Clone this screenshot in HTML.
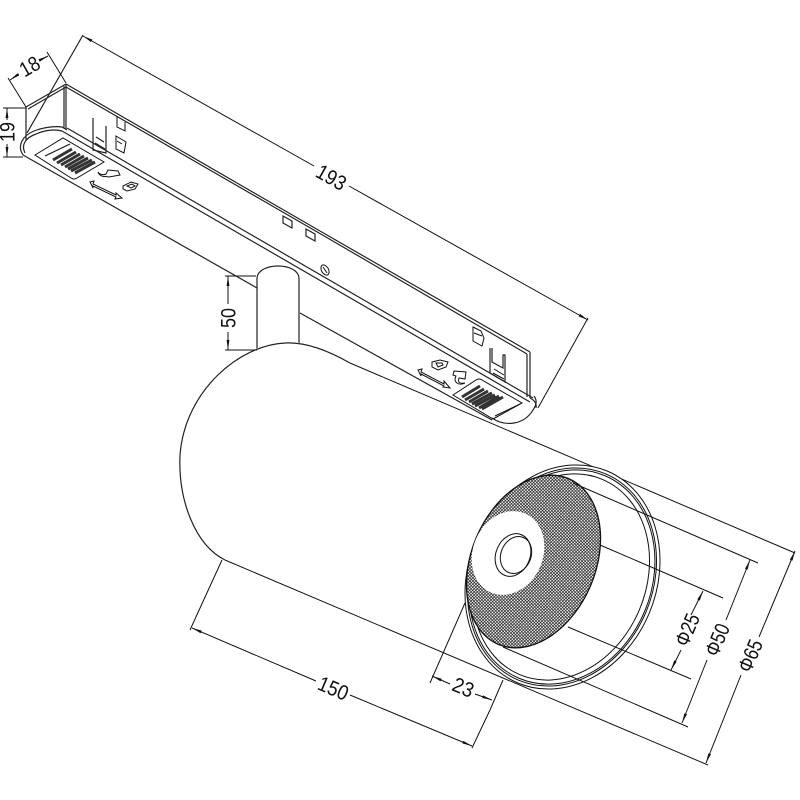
<!DOCTYPE html>
<html>
<head>
<meta charset="utf-8">
<style>
html,body{margin:0;padding:0;background:#fff}
svg{display:block}
text{font-family:"Liberation Sans",sans-serif;font-size:21px;fill:#111;text-anchor:middle;dominant-baseline:central}
.l{fill:none;stroke:#111;stroke-width:1}
.t{fill:none;stroke:#222;stroke-width:1.2}
.bg{fill:#fff;stroke:none}
</style>
</head>
<body>
<svg width="800" height="800" viewBox="0 0 800 800" xmlns="http://www.w3.org/2000/svg">
<defs>
<pattern id="mesh" width="2.2" height="2.2" patternUnits="userSpaceOnUse" patternTransform="rotate(23)">
<rect width="2.2" height="2.2" fill="#fff"/>
<path d="M0 0H2.2M0 0V2.2" stroke="#111" stroke-width="1.3" fill="none"/>
</pattern>
<marker id="a" viewBox="0 0 10 4" refX="10" refY="2" markerWidth="10" markerHeight="4" orient="auto-start-reverse" markerUnits="userSpaceOnUse">
<path d="M10 2L0 0.6V3.4Z" fill="#111"/>
</marker>
</defs>

<!-- rail -->
<g class="t">
<path d="M26 107L66 84M28 109L66 87"/>
<path d="M66 84L275 205M66 87L274 207"/>
<path d="M275 205L320 231M274 207L319 233"/>
<path d="M320 231L530 352M319 233L527 354"/>
<path d="M26 107V140M66 84V129M64 86V128"/>
<path d="M530 352V398M527 354V397"/>
<path d="M67 128L533 398M62 131L530 402"/>
<path d="M23 155C17 146 22 136 34 131C44 127 56 126 62 127L67 130"/>
<path d="M25 153C21 145 25 138 36 134C45 130 55 129 62 131"/>
<path d="M23 155L257 288"/>
<path d="M300 313L492 420"/>
<path d="M492 418C505 427 524 425 533 410C537 404 537 400 534 396"/>
<path d="M530 398C534 400 537 403 536 408"/>
</g>

<!-- left grille -->
<path class="l" d="M35 155L63 138L104 162L77 178Q74 180 71 178L35 155Z"/>
<path class="l" d="M45 156L70 144"/>
<g stroke="#333" stroke-width="3" fill="none">
<path d="M53 160L72 149M57 163L76 152M61 165L80 154M65 167L84 156M68 169L88 158M71 171L92 160M75 173L95 162"/>
</g>
<!-- left icons -->
<path class="l" d="M90 182L94 181L93 184L116 195L116 193L122 198L115 199L116 197L93 186L93 188Z"/>
<path class="l" d="M98 172C100 178 106 176 109 177L120 175L118 171L108 170L106 174C104 175 100 175 98 172Z"/>
<path class="l" d="M123 186L131 182L138 184L135 189L127 191L123 189Z"/>
<path class="l" d="M127 186L132 184L135 186L131 188Z"/>
<!-- left connectors -->
<path class="t" d="M93 118V150L106 153V126M96 137L104 142M95 143L105 149"/>
<path class="l" d="M117 116V127L125 131V122"/>
<path class="l" d="M116 136L126 142L124 153L116 149Z"/>
<path class="l" d="M117 141L122 144"/>

<!-- middle details -->
<path class="t" d="M283 216L292 221V228L283 223Z"/>
<path class="t" d="M306 229L315 234V241L306 236Z"/>
<ellipse class="l" cx="325" cy="270" rx="3.5" ry="5.5" transform="rotate(-30 325 270)"/>
<path class="l" d="M323 267L327 273"/>

<!-- right connectors -->
<path class="l" d="M473 327L481 331L484 338L482 346L473 341Z"/>
<path class="l" d="M474 333L482 336"/>
<path class="t" d="M490 348V373L505 382V355L503 355V368L492 362V348"/>
<path class="l" d="M494 369L504 375M493 373L504 379"/>
<!-- right grille -->
<path class="l" d="M453 395L476 380Q479 378 482 380L522 403L493 419Z"/>
<path class="l" d="M495 416L520 404"/>
<g stroke="#333" stroke-width="3" fill="none">
<path d="M462 397L480 386M465 400L484 389M469 402L488 391M472 404L492 393M475 406L495 395M479 408L499 396M482 409L503 397"/>
</g>
<path class="l" d="M418 370L422 369L421 372L444 384L444 381L450 388L443 387L444 386L421 374L421 376Z"/>
<path class="l" d="M432 362L440 360L448 362L446 367L438 370L432 367Z"/>
<path class="l" d="M436 363L442 363L443 365L438 367Z"/>
<path class="l" d="M454 371L466 372L465 379L459 378C458 381 458 384 465 383C458 386 453 382 456 376L453 375Z"/>

<!-- stem -->
<path class="t" d="M257 350V278C258 262 298 262 299 278V345" stroke-width="1.4"/>
<!-- body -->
<path class="bg" d="M300 343C250 332 185 390 180 455C178 500 195 545 225 560L520 684L640 620L620 490Z"/>
<path class="t" d="M350 363C320 346 300 342 285 343C240 345 185 390 180 455C178 500 195 545 225 560"/>
<path class="l" d="M350 363L795 553"/>
<path class="l" d="M225 560L708 765"/>

<!-- front ring -->
<ellipse cx="562.5" cy="577" rx="94" ry="115" transform="rotate(23 562.5 577)" fill="#fff" stroke="#111" stroke-width="1"/>
<ellipse class="l" cx="562" cy="577" rx="91" ry="112" transform="rotate(23 562 577)" stroke-width="1.2"/>
<ellipse class="l" cx="562" cy="577" rx="89.5" ry="110" transform="rotate(23 562 577)" stroke-width="1"/>
<ellipse class="l" cx="561" cy="577" rx="85" ry="106" transform="rotate(23 561 577)" stroke-width=".8"/>

<!-- mesh -->
<ellipse cx="533.5" cy="561.5" rx="62" ry="90" transform="rotate(23 533.5 561.5)" fill="url(#mesh)" stroke="#111" stroke-width="1.3"/>
<ellipse cx="508" cy="553" rx="35" ry="43" transform="rotate(23 508 553)" fill="#fff"/>
<ellipse class="l" cx="513" cy="555" rx="17" ry="22" transform="rotate(23 513 555)"/>
<ellipse class="l" cx="516" cy="555" rx="15" ry="19" transform="rotate(23 516 555)"/>

<!-- extension lines through the face -->
<path class="l" d="M573 483L758 563"/>
<path class="l" d="M600 545L723 598"/>
<path class="l" d="M568 627L691 679"/>
<path class="l" d="M503 647L688 727"/>

<!-- 193 -->
<path class="t" d="M83 35L27 133" stroke-width="1.4"/>
<path class="l" d="M83 36L314 166" marker-start="url(#a)"/>
<path class="l" d="M349 186L588 320" marker-end="url(#a)"/>
<path class="l" d="M588 318L538 408"/>
<text x="331" y="178" transform="rotate(29.5 331 178)" textLength="31" lengthAdjust="spacingAndGlyphs">193</text>

<!-- 18 -->
<path class="l" d="M8 78L26 107M47 52L66 83"/>
<path class="l" d="M10 80L19 74" marker-start="url(#a)"/>
<path class="l" d="M40 60L48 56" marker-end="url(#a)"/>
<text x="30" y="67" transform="rotate(-30 30 67)" textLength="20" lengthAdjust="spacingAndGlyphs">18</text>

<!-- 19 -->
<path class="l" d="M3 108H26M3 157H23"/>
<path class="l" d="M7 108V120" marker-start="url(#a)"/>
<path class="l" d="M7 144V157" marker-end="url(#a)"/>
<text x="8" y="132" transform="rotate(-90 8 132)" textLength="20" lengthAdjust="spacingAndGlyphs">19</text>

<!-- 50 -->
<path class="l" d="M225 276H256M225 350H257"/>
<path class="l" d="M228 276V304" marker-start="url(#a)"/>
<path class="l" d="M228 332V350" marker-end="url(#a)"/>
<text x="229" y="318" transform="rotate(-90 229 318)" textLength="20" lengthAdjust="spacingAndGlyphs">50</text>

<!-- 150 -->
<path class="l" d="M222 560L190 630M490 710L472 748"/>
<path class="l" d="M192 628L316 681" marker-start="url(#a)"/>
<path class="l" d="M350 695L472 746" marker-end="url(#a)"/>
<text x="333" y="689" transform="rotate(23 333 689)" textLength="31" lengthAdjust="spacingAndGlyphs">150</text>

<!-- 23 -->
<path class="l" d="M465 603L430 683M503 680L490 710"/>
<path class="l" d="M432 676L450 684" marker-start="url(#a)"/>
<path class="l" d="M475 694L492 700" marker-end="url(#a)"/>
<text x="463" y="688" transform="rotate(23 463 688)" textLength="21" lengthAdjust="spacingAndGlyphs">23</text>

<!-- phi dims -->
<path class="l" d="M703 591L691 615" marker-start="url(#a)"/>
<path class="l" d="M681 650L671 670" marker-end="url(#a)"/>
<text x="688" y="630" transform="rotate(-67 688 630)" textLength="33" lengthAdjust="spacingAndGlyphs">Φ25</text>

<path class="l" d="M750 560L726 620" marker-start="url(#a)"/>
<path class="l" d="M707 660L682 723" marker-end="url(#a)"/>
<text x="718" y="640" transform="rotate(-67 718 640)" textLength="33" lengthAdjust="spacingAndGlyphs">Φ50</text>

<path class="l" d="M795 551L759 637" marker-start="url(#a)"/>
<path class="l" d="M741 675L706 763" marker-end="url(#a)"/>
<text x="751" y="656" transform="rotate(-67 751 656)" textLength="33" lengthAdjust="spacingAndGlyphs">Φ65</text>
</svg>
</body>
</html>
